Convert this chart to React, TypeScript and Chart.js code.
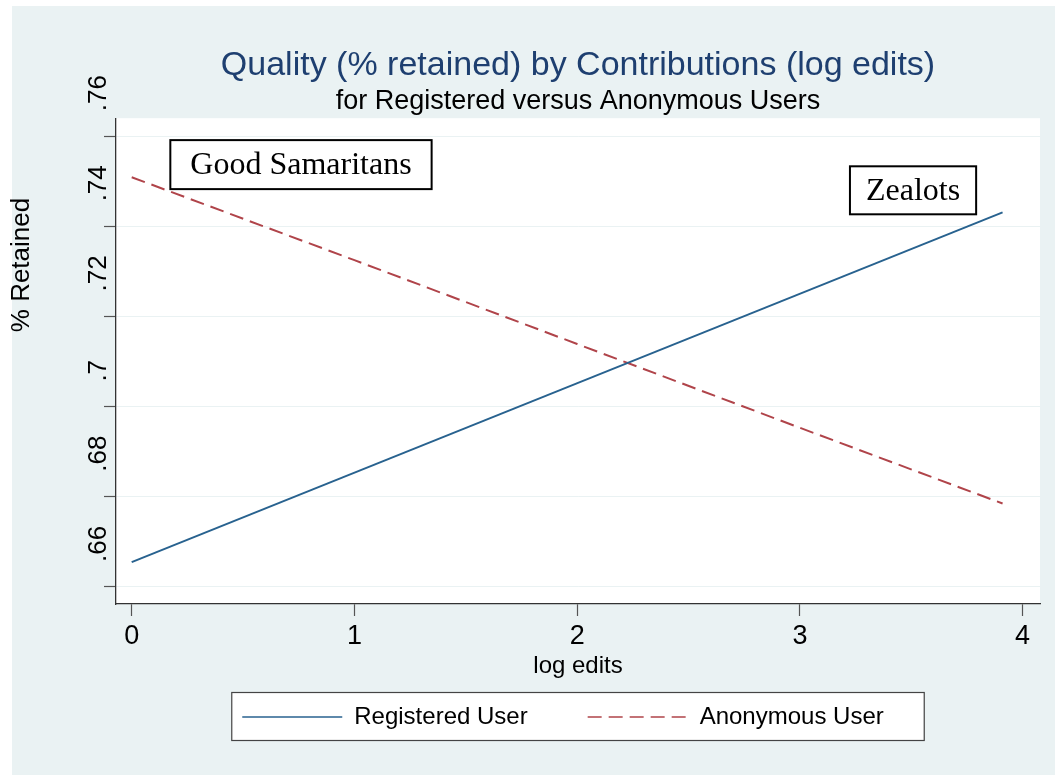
import React, { useEffect, useRef } from 'react';
import { Chart, registerables } from 'chart.js';

Chart.register(...registerables);

// ---- data ----
const registeredX = [0, 3.91];
const registeredY = [0.6655, 0.7431];
const anonymousX = [0, 1, 2, 3, 3.91];
const anonymousY = [0.7509, 0.7325, 0.7139, 0.6953, 0.6785];
const seriesNames = ['Registered User', 'Anonymous User'];
const yTickValues = [0.66, 0.68, 0.7, 0.72, 0.74, 0.76];
const yTickLabels = ['.66', '.68', '.7', '.72', '.74', '.76'];
const xTickValues = [0, 1, 2, 3, 4];
const xTickLabels = ['0', '1', '2', '3', '4'];
const annotationTexts = ['Good Samaritans', 'Zealots'];
const titleText = 'Quality (% retained) by Contributions (log edits)';
const subtitleText = 'for Registered versus Anonymous Users';
const xTitle = 'log edits';
const yTitle = '% Retained';

const SANS = '"Liberation Sans", Arial, sans-serif';
const SERIF = '"Liberation Serif", "Times New Roman", serif';

const decorPlugin = {
  id: 'decor',
  afterLayout(chart: any, _args: any, opts: any) {
    const lg = chart.legend;
    if (!lg) return;
    const h = lg.height;
    const w = lg.width;
    lg.top = opts.legendTop;
    lg.bottom = opts.legendTop + h;
    lg.left = opts.legendLeft;
    lg.right = opts.legendLeft + w;
  },
  beforeDraw(chart: any, _args: any, opts: any) {
    const { ctx, chartArea, width, height } = chart;
    ctx.save();
    ctx.fillStyle = opts.background;
    ctx.fillRect(12, 6, width - 12, height - 6);
    ctx.fillStyle = '#ffffff';
    ctx.fillRect(chartArea.left, chartArea.top, chartArea.right - chartArea.left, chartArea.bottom - chartArea.top);
    // legend frame
    const lg = chart.legend;
    if (lg && lg.legendHitBoxes && lg.legendHitBoxes.length) {
      const hb = lg.legendHitBoxes;
      const first = hb[0];
      const last = hb[hb.length - 1];
      const l = first.left - 11;
      const r = last.left + last.width + 40;
      const t = first.top - 13;
      const b = first.top + first.height + 11;
      ctx.fillStyle = '#ffffff';
      ctx.fillRect(l, t, r - l, b - t);
      ctx.strokeStyle = '#444444';
      ctx.lineWidth = 1.2;
      ctx.strokeRect(l + 0.5, t + 0.5, r - l, b - t);
    }
    ctx.restore();
  },
  afterDraw(chart: any, _args: any, opts: any) {
    const { ctx } = chart;
    const xs = chart.scales.x;
    const ys = chart.scales.y;
    ctx.save();
    // annotation boxes
    ctx.font = `32px ${SERIF}`;
    opts.annotations.forEach((a: any, i: number) => {
      const txt = annotationTexts[i];
      const cx = xs.getPixelForValue(a.x);
      const cy = ys.getPixelForValue(a.y);
      const tw = ctx.measureText(txt).width;
      const w = tw + 2 * a.padX;
      const h = a.h;
      ctx.fillStyle = '#ffffff';
      ctx.fillRect(cx - w / 2, cy - h / 2, w, h);
      ctx.strokeStyle = '#000000';
      ctx.lineWidth = 2;
      ctx.strokeRect(cx - w / 2, cy - h / 2, w, h);
      ctx.fillStyle = '#000000';
      ctx.textAlign = 'center';
      ctx.textBaseline = 'middle';
      ctx.fillText(txt, cx, cy + 1);
    });
    // y axis title (rotated)
    ctx.translate(opts.yTitleX, opts.yTitleY);
    ctx.rotate(-Math.PI / 2);
    ctx.font = `26px ${SANS}`;
    ctx.fillStyle = '#000000';
    ctx.textAlign = 'center';
    ctx.textBaseline = 'middle';
    ctx.fillText(yTitle, 0, 0);
    ctx.restore();
  },
};

export default function App() {
  const ref = useRef<HTMLCanvasElement | null>(null);

  useEffect(() => {
    if (!ref.current) return;
    const defaultGen = (Chart as any).defaults.plugins.legend.labels.generateLabels;
    const chart = new Chart(ref.current, {
      type: 'line',
      data: {
        datasets: [
          {
            label: seriesNames[0],
            data: registeredX.map((x, i) => ({ x, y: registeredY[i] })),
            borderColor: '#28628F',
            backgroundColor: '#28628F',
            borderWidth: 2,
            pointRadius: 0,
            tension: 0,
            fill: false,
          },
          {
            label: seriesNames[1],
            data: anonymousX.map((x, i) => ({ x, y: anonymousY[i] })),
            borderColor: '#B0444A',
            backgroundColor: '#B0444A',
            borderWidth: 2,
            borderDash: [14, 7],
            pointRadius: 0,
            tension: 0,
            fill: false,
          },
        ],
      },
      options: {
        responsive: false,
        animation: false,
        maintainAspectRatio: false,
        layout: { padding: { left: 86, right: 15, top: 0, bottom: 0 } },
        font: { family: SANS },
        color: '#000000',
        plugins: {
          title: {
            display: true,
            text: titleText,
            color: '#1E3F70',
            font: { family: SANS, size: 34, weight: 'normal' },
            padding: { top: 45, bottom: 0 },
            fullSize: false,
          },
          subtitle: {
            display: true,
            text: subtitleText,
            color: '#000000',
            font: { family: SANS, size: 27, weight: 'normal' },
            padding: { top: 0, bottom: 0 },
            fullSize: false,
          },
          legend: {
            display: true,
            position: 'bottom',
            fullSize: false,
            align: 'center',
            labels: {
              usePointStyle: true,
              pointStyle: 'line',
              pointStyleWidth: 100,
              padding: 60,
              color: '#000000',
              font: { family: SANS, size: 24 },
              generateLabels: (c: any) =>
                defaultGen(c).map((item: any) => {
                  const ds = c.data.datasets[item.datasetIndex];
                  return {
                    ...item,
                    lineDash: ds.borderDash || [],
                    lineWidth: 1.5,
                    strokeStyle: ds.borderColor,
                    pointStyle: 'line',
                  };
                }),
            },
          },
          tooltip: { enabled: false },
          decor: {
            background: '#EAF2F3',
            legendTop: 645,
            legendLeft: 101,
            yTitleX: 22,
            yTitleY: 265,
            annotations: [
              { x: 0.76, y: 0.7537, padX: 20, h: 49 },
              { x: 3.508, y: 0.748, padX: 16, h: 48 },
            ],
          },
        } as any,
        scales: {
          x: {
            type: 'linear',
            position: 'bottom',
            min: -0.0705,
            max: 4.078,
            afterBuildTicks: (scale: any) => {
              scale.ticks = xTickValues.map((v) => ({ value: v }));
            },
            afterFit: (scale: any) => {
              scale.height = 77;
            },
            ticks: {
              autoSkip: false,
              maxRotation: 0,
              padding: 4,
              color: '#000000',
              font: { family: SANS, size: 27 },
              callback: (value: any) => {
                const i = xTickValues.findIndex((v) => Math.abs(v - Number(value)) < 1e-9);
                return i >= 0 ? xTickLabels[i] : '';
              },
            },
            grid: {
              drawOnChartArea: false,
              drawTicks: true,
              tickLength: 12,
              tickColor: '#555555',
              tickWidth: 1.2,
            },
            border: { display: true, color: '#333333', width: 1.3 },
            title: {
              display: true,
              text: xTitle,
              color: '#000000',
              font: { family: SANS, size: 24 },
              padding: { top: 0, bottom: 0 },
            },
          },
          y: {
            type: 'linear',
            position: 'left',
            min: 0.6562,
            max: 0.764,
            afterBuildTicks: (scale: any) => {
              scale.ticks = yTickValues.map((v) => ({ value: v }));
            },
            afterFit: (scale: any) => {
              scale.width = 30;
            },
            ticks: {
              autoSkip: false,
              minRotation: 90,
              maxRotation: 90,
              crossAlign: 'far',
              align: 'start',
              labelOffset: -25,
              color: '#000000',
              font: { family: SANS, size: 26 },
              callback: (value: any) => {
                const i = yTickValues.findIndex((v) => Math.abs(v - Number(value)) < 1e-9);
                return i >= 0 ? yTickLabels[i] : '';
              },
            },
            grid: {
              drawOnChartArea: true,
              color: '#EAF2F3',
              lineWidth: 1,
              drawTicks: true,
              tickLength: 12,
              tickColor: '#555555',
              tickWidth: 1.2,
            },
            border: { display: true, color: '#333333', width: 1.3 },
          },
        },
      } as any,
      plugins: [decorPlugin],
    });
    return () => chart.destroy();
  }, []);

  return (
    <div style={{ position: 'fixed', left: 0, top: 0, width: 1055, height: 775, background: '#ffffff' }}>
      <canvas ref={ref} width={1055} height={775} style={{ display: 'block', width: 1055, height: 775 }} />
    </div>
  );
}
